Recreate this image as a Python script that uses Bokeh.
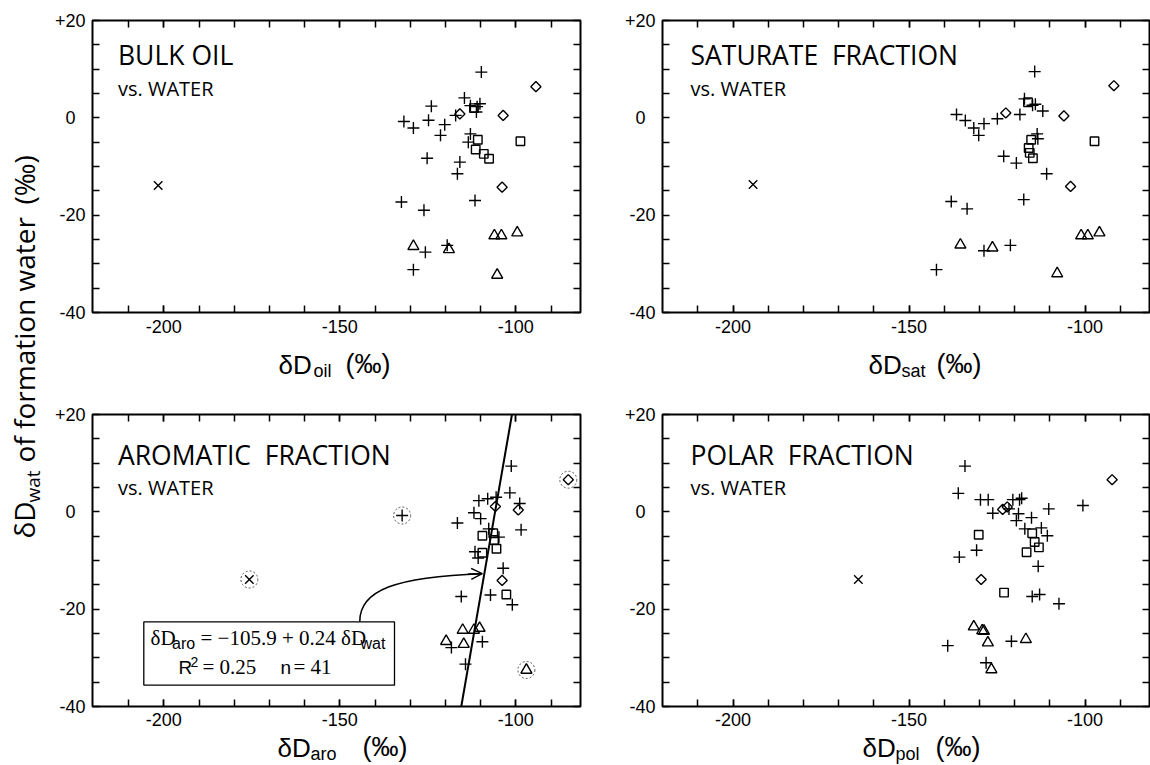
import numpy as np
from bokeh.plotting import figure
from bokeh.models import (Range1d, FixedTicker, LinearAxis, CustomJSTickFormatter,
                          Label, BoxAnnotation, Arrow, OpenHead)
from bokeh.layouts import row, column
from bokeh.embed import file_html
from bokeh.resources import INLINE

# ---------------- data ----------------
# Bulk oil vs water
oil_plus_x = [-109.8, -124.0, -131.8, -129.1, -124.8, -120.2, -121.4, -117.1, -114.6, -112.9, -111.2, -110.2,
              -111.0, -112.9, -113.5, -125.2, -115.9, -116.6, -132.5, -126.1, -111.6, -125.7, -119.5, -129.1]
oil_plus_y = [9.4, 2.4, -0.75, -2.1, -0.5, -1.4, -3.6, 0.5, 4.1, 2.5, 1.2, 2.9,
              2.3, -3.3, -5.0, -8.3, -9.1, -11.5, -17.3, -19.0, -17.0, -27.6, -26.2, -31.2]
oil_square_x = [-111.9, -110.8, -111.4, -109.1, -107.6, -98.7]
oil_square_y = [2.0, -4.5, -6.5, -7.4, -8.4, -4.8]
oil_diamond_x = [-115.9, -103.6, -103.9, -94.3]
oil_diamond_y = [0.8, 0.5, -14.25, 6.4]
oil_tri_x = [-129.1, -119.0, -106.1, -104.1, -99.6, -105.3]
oil_tri_y = [-26.4, -27.05, -24.2, -24.2, -23.6, -32.3]
oil_x_x = [-201.6]
oil_x_y = [-13.9]

# Saturate fraction vs water
sat_plus_x = [-114.3, -136.5, -134.0, -131.6, -130.2, -128.7, -124.9, -118.5, -117.2, -114.9, -114.1, -112.0,
              -113.6, -113.4, -123.1, -119.5, -110.9, -138.0, -133.5, -117.4, -128.7, -121.2, -142.2]
sat_plus_y = [9.5, 0.7, -0.55, -2.1, -3.6, -1.2, -0.2, 0.7, 3.9, 2.6, 2.8, 1.4,
              -3.3, -4.3, -7.9, -9.3, -11.5, -17.2, -18.7, -16.8, -27.3, -26.2, -31.2]
sat_square_x = [-116.2, -115.3, -116.0, -115.7, -114.8, -97.3]
sat_square_y = [3.2, -4.5, -6.2, -7.2, -8.3, -4.8]
sat_diamond_x = [-122.5, -106.0, -104.1, -91.8]
sat_diamond_y = [1.0, 0.4, -14.1, 6.6]
sat_tri_x = [-135.4, -126.3, -101.1, -99.2, -95.9, -107.9]
sat_tri_y = [-26.1, -26.7, -24.2, -24.2, -23.6, -32.0]
sat_x_x = [-194.3]
sat_x_y = [-13.7]

# Aromatic fraction vs water
aro_plus_x = [-101.3, -101.7, -98.9, -110.5, -108.0, -105.6, -111.9, -110.0, -116.6, -98.5, -107.7,
              -104.8, -111.6, -110.7, -103.6, -115.5, -107.2, -101.0, -118.3, -109.5, -114.3, -132.3]
aro_plus_y = [9.4, 3.9, 1.7, 2.3, 2.7, 3.0, -0.2, -1.4, -2.3, -3.7, -3.5,
              -5.2, -8.2, -9.5, -11.6, -17.4, -17.1, -19.1, -27.9, -26.7, -31.3, -0.75]
aro_square_x = [-109.5, -106.4, -106.2, -105.5, -109.5, -102.7]
aro_square_y = [-4.9, -4.4, -5.8, -7.6, -8.4, -17.0]
aro_diamond_x = [-105.8, -99.3, -103.9, -85.1]
aro_diamond_y = [1.1, 0.4, -14.1, 6.6]
aro_tri_x = [-115.1, -111.9, -110.3, -119.8, -114.8, -97.0]
aro_tri_y = [-24.3, -24.3, -23.9, -26.6, -27.2, -32.5]
aro_x_x = [-175.7]
aro_x_y = [-13.9]
# excluded (circled) samples in the aromatic regression
aro_out_x = [-132.3, -175.7, -85.1, -97.0]
aro_out_y = [-0.75, -13.9, 6.6, -32.5]

# Polar fraction vs water
pol_plus_x = [-134.1, -136.0, -129.7, -127.5, -126.2, -120.5, -118.0, -118.6, -121.6, -118.9, -119.5, -115.2, -110.3,
              -100.6, -117.1, -112.4, -110.7, -130.8, -135.7, -113.3, -115.0, -112.9, -107.4, -139.0, -120.9, -128.1]
pol_plus_y = [9.4, 3.8, 2.5, 2.5, -0.3, 2.5, 2.8, 2.5, 0.6, -0.4, -1.8, -1.2, 0.6,
              1.3, -3.5, -3.3, -4.9, -7.9, -9.3, -11.2, -17.4, -17.0, -18.9, -27.5, -26.6, -31.0]
pol_square_x = [-130.2, -115.0, -114.3, -113.1, -116.6, -123.0]
pol_square_y = [-4.7, -4.4, -6.2, -7.3, -8.3, -16.6]
pol_diamond_x = [-123.4, -122.1, -129.5, -92.3]
pol_diamond_y = [0.5, 1.0, -13.9, 6.6]
pol_tri_x = [-131.6, -129.2, -128.7, -127.6, -116.8, -126.6]
pol_tri_y = [-23.6, -24.4, -24.5, -26.9, -26.2, -32.4]
pol_x_x = [-164.4]
pol_x_y = [-13.9]

# regression shown in the aromatic panel: dD_aro = -105.9 + 0.24 dD_wat
reg_intercept = -105.9
reg_slope = 0.24
reg_y_ends = [-40.0, 20.0]
arrow_tip_y = -12.7

# axes / ticks
x_major_ticks = [-200, -150, -100]
x_minor_ticks = [-210, -200, -190, -180, -170, -160, -150, -140, -130, -120, -110, -100, -90]
y_major_ticks = [-40, -20, 0, 20]
y_minor_ticks = [-35, -30, -25, -15, -10, -5, 5, 10, 15]
X_RANGE_L = (-220.26, -81.63)
X_RANGE_R = (-220.03, -81.68)
Y_RANGE = (-40.0, 20.0)

SANS = "Liberation Sans"
SERIF = "Liberation Serif"
TITLE_FONT = "Open Sans"
FH = 292          # frame height in px
BASE_CORR = 0.42  # empirical shift of the alphabetic baseline (in em)


def style_axis(ax, labels):
    ax.major_tick_in = 7
    ax.major_tick_out = 0
    ax.minor_tick_in = 7
    ax.minor_tick_out = 0
    ax.major_tick_line_width = 1.5
    ax.minor_tick_line_width = 1.5
    ax.major_tick_line_color = "black"
    ax.minor_tick_line_color = "black"
    ax.axis_line_color = None
    if labels:
        ax.major_label_text_font = SANS
        ax.major_label_text_font_size = "18px"
        ax.major_label_text_color = "black"
    else:
        ax.formatter = CustomJSTickFormatter(code="return '';")
        ax.major_label_text_font_size = "1px"
        ax.major_label_standoff = 0


def make_panel(width, height, bl, br, bt, bb, xr, xstand):
    p = figure(width=width, height=height, x_range=Range1d(*xr), y_range=Range1d(*Y_RANGE),
               output_backend="svg", toolbar_location=None, tools="",
               x_axis_type=None, y_axis_type=None,
               min_border_left=bl, min_border_right=br, min_border_top=bt, min_border_bottom=bb)
    p.outline_line_color = "black"
    p.outline_line_width = 2
    p.outline_line_alpha = 1.0
    p.background_fill_color = "white"
    p.border_fill_color = "white"
    xt = FixedTicker(ticks=x_major_ticks, minor_ticks=x_minor_ticks)
    yt = FixedTicker(ticks=y_major_ticks, minor_ticks=y_minor_ticks)
    xb = LinearAxis(ticker=xt, formatter=CustomJSTickFormatter(code="return tick.toFixed(0);"))
    style_axis(xb, True)
    xb.major_label_standoff = xstand
    xa = LinearAxis(ticker=xt)
    style_axis(xa, False)
    yl = LinearAxis(ticker=yt, formatter=CustomJSTickFormatter(code=(
        "if (tick > 0) { return '+' + tick.toFixed(0); }"
        "if (tick == 0) { return '0\\u2007'; }"
        "return tick.toFixed(0);")))
    style_axis(yl, True)
    yl.major_label_standoff = 7
    yr = LinearAxis(ticker=yt)
    style_axis(yr, False)
    p.add_layout(xb, "below")
    p.add_layout(xa, "above")
    p.add_layout(yl, "left")
    p.add_layout(yr, "right")
    return p


def make_strip(width, height, xspan):
    # in a column the strip's frame lines up with the panel frame above it
    s = figure(width=width, height=height, x_range=Range1d(0, xspan), y_range=Range1d(height, 0),
               output_backend="svg", toolbar_location=None, tools="", x_axis_type=None, y_axis_type=None,
               min_border_left=0, min_border_right=0, min_border_top=0, min_border_bottom=0)
    s.outline_line_color = None
    s.background_fill_color = "white"
    s.border_fill_color = "white"
    return s


def fdata(p, fw, dx, dy):
    xr = p.x_range
    x = xr.start + dx * (xr.end - xr.start) / fw
    y = Y_RANGE[1] - dy * (Y_RANGE[1] - Y_RANGE[0]) / FH
    return x, y


def add_text(p, fw, dx, dy, text, font, size, **kw):
    x, y = fdata(p, fw, dx, dy - BASE_CORR * size)
    p.add_layout(Label(x=x, y=y, text=text, text_font=font, text_font_size=f"{size}px",
                       text_baseline="alphabetic", text_align="left", text_color="black", **kw))


def strip_text(s, x, y, text, font, size):
    s.add_layout(Label(x=x, y=y - BASE_CORR * size, text=text, text_font=font,
                       text_font_size=f"{size}px", text_baseline="alphabetic", text_align="left",
                       text_color="black"))


def draw_points(p, px, py, sx, sy, dx, dy, tx, ty, xx, xy):
    lw = 1.4
    p.scatter(px, py, marker="cross", size=12, line_color="black", line_width=lw)
    p.scatter(sx, sy, marker="square", size=8.5, fill_color=None, line_color="black", line_width=lw)
    p.scatter(dx, dy, marker="square", size=7.2, angle=np.pi / 4, fill_color=None,
              line_color="black", line_width=lw)
    p.scatter(tx, ty, marker="triangle", size=11, fill_color=None, line_color="black", line_width=lw)
    p.scatter(xx, xy, marker="x", size=12, line_color="black", line_width=lw)


FW_L, FW_R = 488, 487
LF_W = 49

# top row (panel + strip holding the x-axis title)
p1 = make_panel(571, 345, 43, 40, 20, 33, X_RANGE_L, 7)
p2 = make_panel(530, 345, 42, 1, 20, 33, X_RANGE_R, 7)
s1 = make_strip(571, 50, FW_L)
s2 = make_strip(530, 50, FW_R)
# bottom row
p3 = make_panel(571, 338, 43, 40, 19, 27, X_RANGE_L, 6)
p4 = make_panel(530, 338, 42, 1, 19, 27, X_RANGE_R, 6)
s3 = make_strip(571, 32, FW_L)
s4 = make_strip(530, 32, FW_R)

draw_points(p1, oil_plus_x, oil_plus_y, oil_square_x, oil_square_y, oil_diamond_x, oil_diamond_y,
            oil_tri_x, oil_tri_y, oil_x_x, oil_x_y)
draw_points(p2, sat_plus_x, sat_plus_y, sat_square_x, sat_square_y, sat_diamond_x, sat_diamond_y,
            sat_tri_x, sat_tri_y, sat_x_x, sat_x_y)
draw_points(p3, aro_plus_x, aro_plus_y, aro_square_x, aro_square_y, aro_diamond_x, aro_diamond_y,
            aro_tri_x, aro_tri_y, aro_x_x, aro_x_y)
draw_points(p4, pol_plus_x, pol_plus_y, pol_square_x, pol_square_y, pol_diamond_x, pol_diamond_y,
            pol_tri_x, pol_tri_y, pol_x_x, pol_x_y)

# dotted circles around excluded samples
p3.scatter(aro_out_x, aro_out_y, marker="circle", size=17, fill_color=None,
           line_color="#555555", line_width=1, line_dash="2 2")

# regression line
reg_x = [reg_intercept + reg_slope * v for v in reg_y_ends]
p3.line(reg_x, reg_y_ends, line_color="black", line_width=2)

# panel titles
NB2 = "\u00a0\u00a0"
for p, fw, t, dy1, dy2, dx in [(p1, FW_L, "BULK OIL", 45.7, 76.7, 25.5),
                               (p2, FW_R, "SATURATE" + NB2 + "FRACTION", 45.7, 76.7, 28),
                               (p3, FW_L, "AROMATIC" + NB2 + "FRACTION", 51.7, 81.7, 25.5),
                               (p4, FW_R, "POLAR" + NB2 + "FRACTION", 51.7, 81.7, 28)]:
    add_text(p, fw, dx, dy1, t, TITLE_FONT, 26.5)
    add_text(p, fw, dx, dy2, "vs. WATER", TITLE_FONT, 20)

# x axis titles (in strips below the panels; x measured from the frame's left edge)
for s, xd, xs, xp, yb, sub in [(s1, 186, 221, 253, 30, "oil"),
                               (s2, 206, 239, 274, 30, "sat"),
                               (s3, 185, 218, 270, 25, "aro"),
                               (s4, 200, 233, 273, 25, "pol")]:
    strip_text(s, xd, yb, "δD", SANS, 26)
    strip_text(s, xs, yb + 3, sub, SANS, 18)
    strip_text(s, xp, yb, "(‰)", SANS, 27)

# regression box
bl_x, bt_y = fdata(p3, FW_L, 51.3, 207.4)
br_x, bb_y = fdata(p3, FW_L, 302, 270.7)
p3.add_layout(BoxAnnotation(left=bl_x, right=br_x, top=bt_y, bottom=bb_y, fill_color=None,
                            line_color="black", line_width=1.3, line_alpha=1.0))
add_text(p3, FW_L, 58, 232.5, "δD", SERIF, 21)
add_text(p3, FW_L, 79.5, 236, "aro", SANS, 16)
add_text(p3, FW_L, 108, 232.5, "= −105.9 + 0.24 δD", SERIF, 21)
add_text(p3, FW_L, 268, 236, "wat", SANS, 16)
add_text(p3, FW_L, 86, 261, "R", SANS, 19)
add_text(p3, FW_L, 98, 253, "2", SANS, 14)
add_text(p3, FW_L, 110, 261, "= 0.25", SERIF, 21)
add_text(p3, FW_L, 188, 261, "n", SANS, 19)
add_text(p3, FW_L, 201, 261, "= 41", SERIF, 21)

# curved arrow from the box to the regression line
ax0, ay0 = fdata(p3, FW_L, 267.3, 207.0)
acx0, acy0 = fdata(p3, FW_L, 267.0, 176.0)
acx1, acy1 = fdata(p3, FW_L, 303.0, 162.0)
tip_x = reg_intercept + reg_slope * arrow_tip_y - 0.6
p3.bezier(x0=[ax0], y0=[ay0], x1=[tip_x], y1=[arrow_tip_y], cx0=[acx0], cy0=[acy0],
          cx1=[acx1], cy1=[acy1], line_color="black", line_width=1.5)
p3.add_layout(Arrow(end=OpenHead(size=11, line_width=1.5, line_color="black"),
                    x_start=tip_x - 4, y_start=arrow_tip_y - 0.05, x_end=tip_x, y_end=arrow_tip_y,
                    line_color="black", line_width=1.5))

# shared y-axis title in its own strip
lf = make_strip(LF_W, 765, LF_W)
for txt, xx, yy, fs in [("δD", 35, 538, 28), ("wat", 40, 502, 19),
                        ("of formation water", 35, 462, 28), ("(‰)", 35, 204, 28)]:
    lf.add_layout(Label(x=xx - BASE_CORR * fs, y=yy, text=txt, angle=np.pi / 2, text_font=TITLE_FONT,
                        text_font_size=f"{fs}px", text_baseline="alphabetic", text_align="left",
                        text_color="black"))

layout = row(lf, column(row(column(p1, s1), column(p2, s2)),
                        row(column(p3, s3), column(p4, s4))))

with open("out.html", "w") as f:
    f.write(file_html(layout, INLINE))
